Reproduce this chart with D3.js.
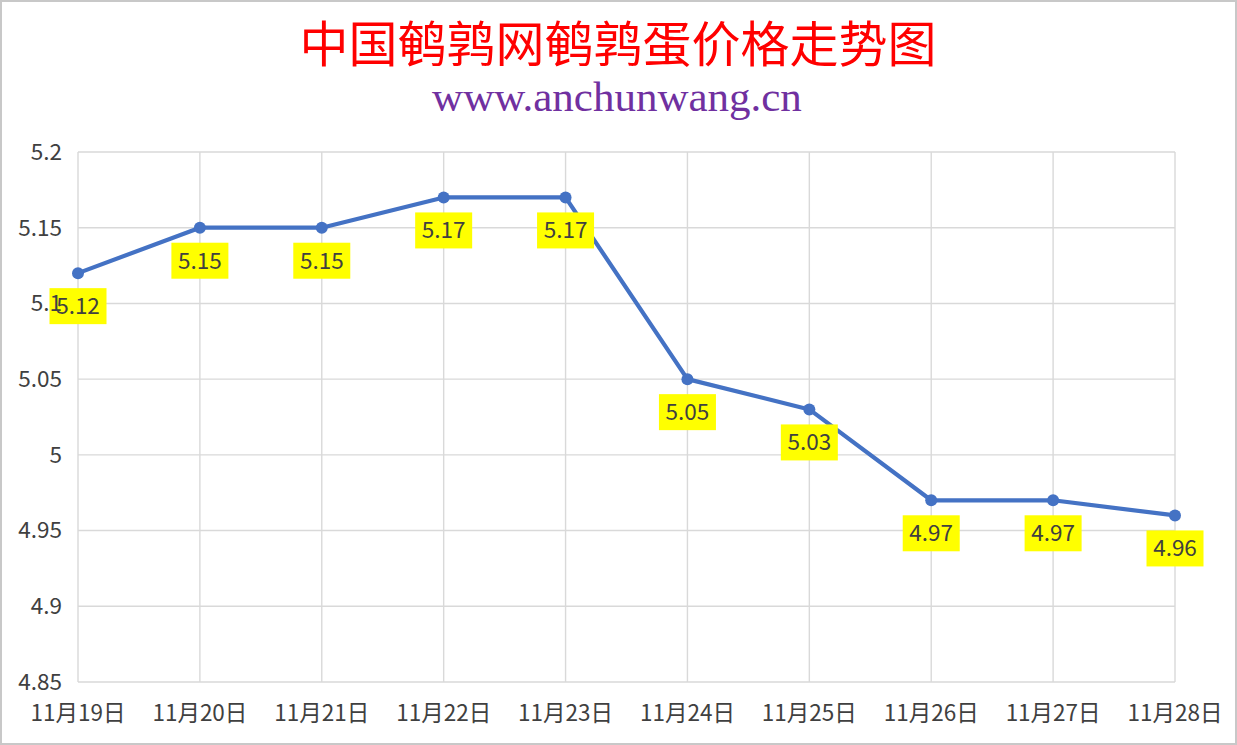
<!DOCTYPE html>
<html><head><meta charset="utf-8">
<script src="https://cdn.jsdelivr.net/npm/d3@7/dist/d3.min.js"></script>
<style>html,body{margin:0;padding:0;background:#fff;}svg{display:block;}</style>
</head><body>
<svg id="c" width="1237" height="745"></svg>
<script>
const categories = ["11月19日","11月20日","11月21日","11月22日","11月23日","11月24日","11月25日","11月26日","11月27日","11月28日"];
const values = [5.12,5.15,5.15,5.17,5.17,5.05,5.03,4.97,4.97,4.96];
const yTicks = [4.85,4.9,4.95,5,5.05,5.1,5.15,5.2];
const yTickLabels = ["4.85","4.9","4.95","5","5.05","5.1","5.15","5.2"];
const titleText = "中国鹌鹑网鹌鹑蛋价格走势图";
const subtitleText = "www.anchunwang.cn";

(function(){
const svg = d3.select("#c");
const W = 1237, H = 745;
const pL = 78, pR = 1175, pT = 152, pB = 682;

svg.append("rect").attr("x",1).attr("y",1).attr("width",W-2).attr("height",H-2)
  .attr("fill","#fff").attr("stroke","#c8c8c8").attr("stroke-width",2);

const x = d3.scalePoint().domain(categories).range([pL,pR]);
const y = d3.scaleLinear().domain([4.85,5.2]).range([pB,pT]);

const font = "'Noto Sans CJK SC','Noto Sans',sans-serif";

// grid
const g = svg.append("g");
g.selectAll(".hg").data(yTicks).enter().append("line")
  .attr("x1",pL).attr("x2",pR).attr("y1",d=>y(d)).attr("y2",d=>y(d))
  .attr("stroke","#d9d9d9").attr("stroke-width",1.4);
g.selectAll(".vg").data(categories).enter().append("line")
  .attr("x1",d=>x(d)).attr("x2",d=>x(d)).attr("y1",pT).attr("y2",pB)
  .attr("stroke","#d9d9d9").attr("stroke-width",1.4);

// x labels
svg.selectAll(".xl").data(categories).enter().append("text")
  .attr("x",d=>x(d)).attr("y",713).attr("dy","0.35em").attr("text-anchor","middle")
  .attr("font-family",font).attr("font-size",22.5).attr("fill","#404040")
  .text(d=>d);

// line
const line = d3.line().x((d,i)=>x(categories[i])).y(d=>y(d));
svg.append("path").datum(values).attr("d",line).attr("fill","none")
  .attr("stroke","#4472C4").attr("stroke-width",4.2).attr("stroke-linejoin","round");
svg.selectAll(".pt").data(values).enter().append("circle")
  .attr("cx",(d,i)=>x(categories[i])).attr("cy",d=>y(d)).attr("r",6).attr("fill","#4472C4");

// data labels
const lab = svg.selectAll(".lb").data(values).enter().append("g")
  .attr("transform",(d,i)=>`translate(${x(categories[i])},${y(d)+33})`);
lab.append("rect").attr("x",-28.5).attr("y",-18).attr("width",57).attr("height",36).attr("fill","#ffff00");
lab.append("text").attr("text-anchor","middle").attr("dy","0.35em")
  .attr("font-family",font).attr("font-size",22.5).attr("fill","#404040")
  .text(d=>d.toFixed(2));

// y labels (drawn on top, as in the reference)
svg.selectAll(".yl").data(yTicks).enter().append("text")
  .attr("x",62).attr("y",d=>y(d)).attr("dy","0.35em").attr("text-anchor","end")
  .attr("font-family",font).attr("font-size",22.5).attr("fill","#404040")
  .text((d,i)=>yTickLabels[i]);

// titles
svg.append("text").attr("x",618).attr("y",62).attr("text-anchor","middle")
  .attr("font-family","'Noto Sans CJK SC',sans-serif").attr("font-size",49).attr("fill","#ff0000")
  .attr("font-weight",400).text(titleText);
svg.append("text").attr("x",617).attr("y",111).attr("text-anchor","middle")
  .attr("font-family","'Liberation Serif','Times New Roman',serif").attr("font-size",43).attr("fill","#7030A0")
  .text(subtitleText);
})();
</script>
</body></html>
